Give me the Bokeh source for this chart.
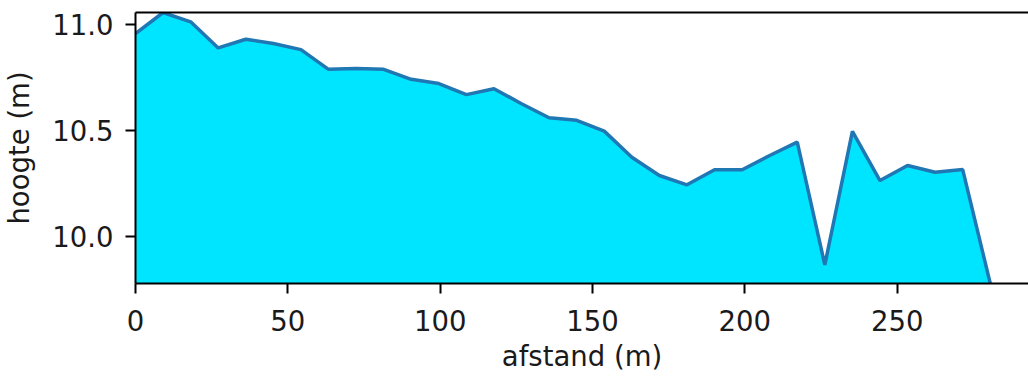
from bokeh.plotting import figure
from bokeh.models import Range1d, FixedTicker, PrintfTickFormatter, LinearAxis
from bokeh.embed import file_html
from bokeh.resources import INLINE

# distance along the profile (m) and height (m)
afstand = [0, 9.05, 18.1, 27.15, 36.2, 45.25, 54.3, 63.35, 72.4, 81.45, 90.5,
           99.55, 108.6, 117.65, 126.7, 135.75, 144.8, 153.85, 162.9, 171.95,
           181.0, 190.05, 199.1, 208.15, 217.2, 226.25, 235.3, 244.35, 253.4,
           262.45, 271.5, 280.55]
hoogte = [10.956, 11.055, 11.011, 10.888, 10.929, 10.909, 10.880, 10.787,
          10.791, 10.787, 10.740, 10.720, 10.668, 10.696, 10.625, 10.559,
          10.547, 10.496, 10.373, 10.287, 10.243, 10.314, 10.314, 10.381,
          10.444, 9.866, 10.495, 10.263, 10.334, 10.302, 10.315, 9.778]
x_ticks = [0, 50, 100, 150, 200, 250]
y_ticks = [10.0, 10.5, 11.0]
x_label = "afstand (m)"
y_label = "hoogte (m)"

ymin = min(hoogte)
ymax = max(hoogte)

FONT = "DejaVu Sans"
FS = "27.5px"

p = figure(width=1028, height=376, output_backend="svg", toolbar_location=None,
           x_range=Range1d(0, 293.1), y_range=Range1d(ymin, ymax),
           min_border_left=135, min_border_right=0, min_border_top=12,
           min_border_bottom=93)
p.outline_line_color = None
p.grid.visible = False
p.background_fill_color = "white"
p.border_fill_color = "white"

p.varea(x=afstand, y1=[ymin] * len(afstand), y2=hoogte, fill_color="#00e5ff")
p.line(x=afstand, y=hoogte, line_color="#1f77b4", line_width=3.5)

for ax, ticks in ((p.xaxis[0], x_ticks), (p.yaxis[0], y_ticks)):
    ax.ticker = FixedTicker(ticks=ticks)
    ax.minor_tick_line_color = None
    ax.major_tick_in = 0
    ax.major_tick_out = 10
    ax.major_tick_line_width = 2
    ax.major_tick_line_color = "black"
    ax.axis_line_width = 2
    ax.axis_line_color = "black"
    ax.major_label_text_font = FONT
    ax.major_label_text_font_size = FS
    ax.major_label_text_color = "#1a1a1a"
    ax.axis_label_text_font = FONT
    ax.axis_label_text_font_size = FS
    ax.axis_label_text_font_style = "normal"
    ax.axis_label_text_color = "#1a1a1a"

p.yaxis[0].formatter = PrintfTickFormatter(format="%.1f")
p.xaxis[0].formatter = PrintfTickFormatter(format="%d")
p.xaxis[0].axis_label = x_label
p.yaxis[0].axis_label = y_label
p.xaxis[0].major_label_standoff = 16
p.yaxis[0].major_label_standoff = 12
p.xaxis[0].axis_label_standoff = 6
p.yaxis[0].axis_label_standoff = 14

top = LinearAxis(ticker=FixedTicker(ticks=[]), axis_line_width=2,
                 axis_line_color="black", major_tick_out=0, major_tick_in=0,
                 minor_tick_line_color=None, major_label_text_font_size="0px")
p.add_layout(top, "above")

open("out.html", "w").write(file_html(p, INLINE))
